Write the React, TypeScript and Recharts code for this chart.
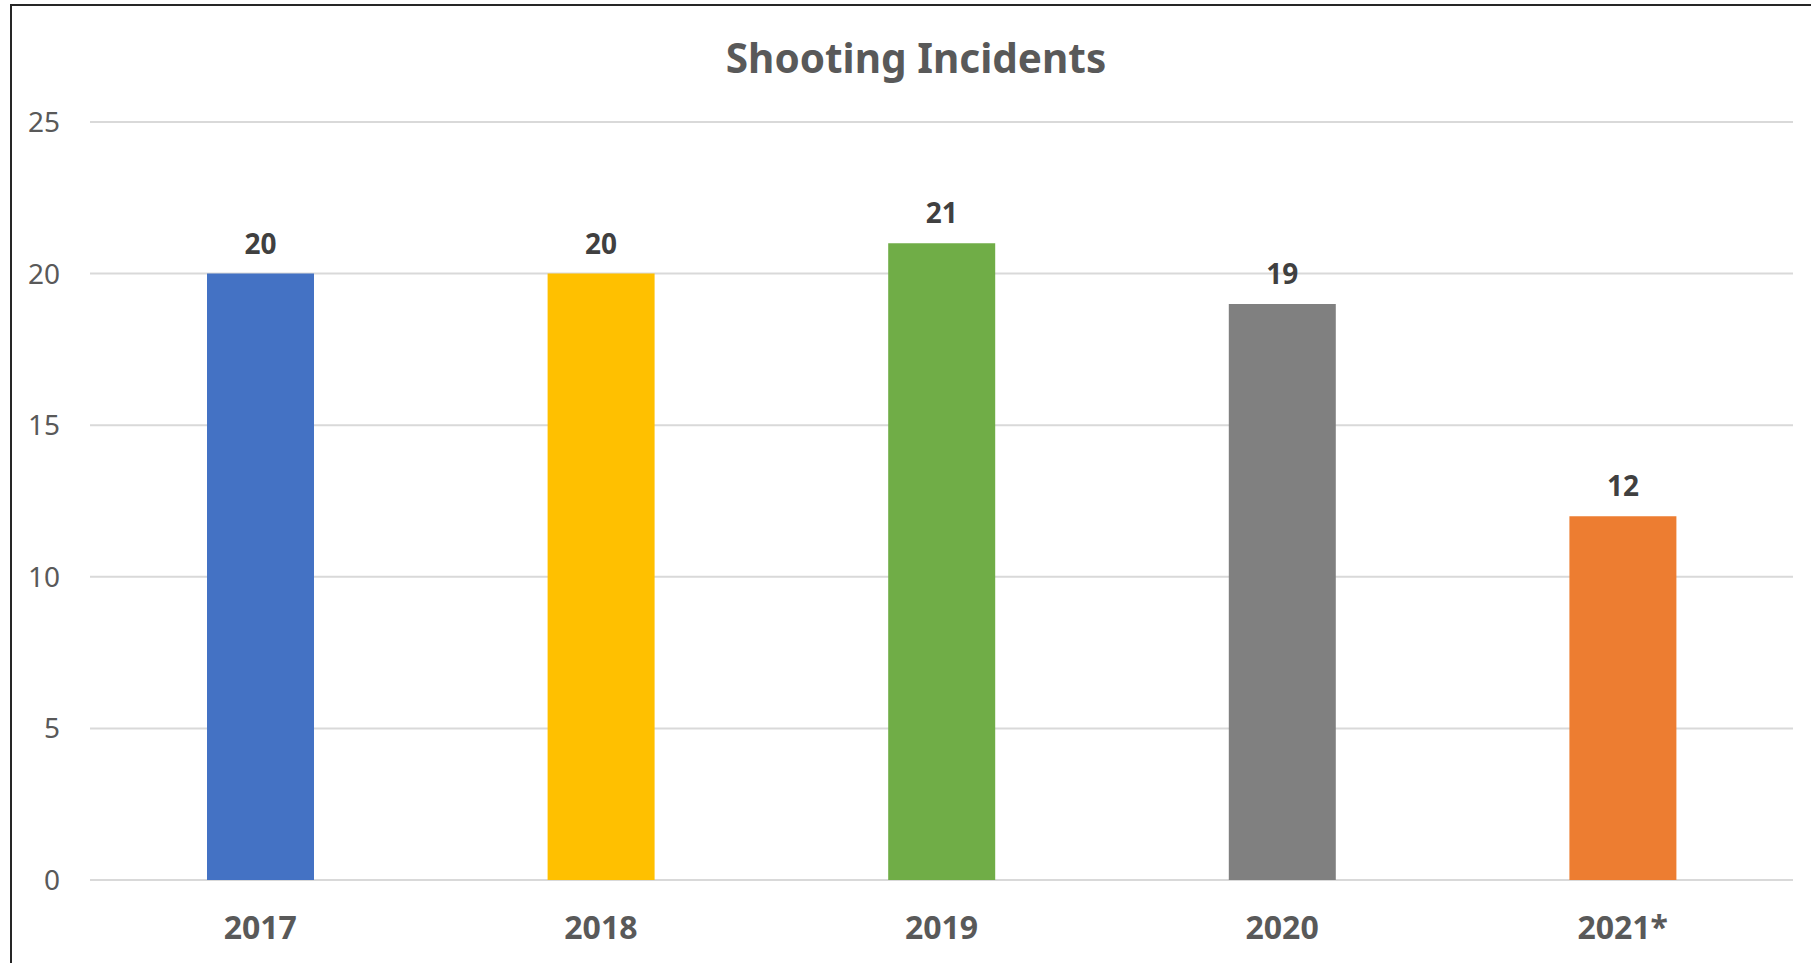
import { Bar, BarChart, CartesianGrid, Cell, LabelList, XAxis, YAxis } from "recharts";

const years = ["2017", "2018", "2019", "2020", "2021*"];
const incidents = [20, 20, 21, 19, 12];
const barColors = ["#4472c4", "#ffc000", "#70ad47", "#808080", "#ed7d31"];
const yTicks = [0, 5, 10, 15, 20, 25];

const data = years.map((year, i) => ({ year, incidents: incidents[i] }));

const font = "'Noto Sans', 'Open Sans', sans-serif";

export default function App() {
  return (
    <div
      style={{
        position: "fixed",
        left: 0,
        top: 0,
        width: 1811,
        height: 963,
        overflow: "hidden",
        background: "#fff",
        fontFamily: font,
      }}
    >
      <div
        style={{
          position: "absolute",
          left: 10,
          top: 4,
          width: 1840,
          height: 1000,
          border: "2.5px solid #262626",
          boxSizing: "border-box",
        }}
      />
      <BarChart
        width={1811}
        height={963}
        data={data}
        margin={{ top: 122, right: 18, left: 0, bottom: 0 }}
        style={{ position: "absolute", left: 0, top: 0, fontFamily: font }}
      >
        <CartesianGrid vertical={false} stroke="#d9d9d9" strokeWidth={2} />
        <XAxis
          dataKey="year"
          height={83}
          axisLine={false}
          tickLine={false}
          tickSize={0}
          tickMargin={36}
          tick={{ fill: "#595959", fontSize: 32, fontWeight: 700 }}
        />
        <YAxis
          width={90}
          domain={[0, 25]}
          ticks={yTicks}
          axisLine={false}
          tickLine={false}
          tickSize={0}
          tickMargin={30}
          tick={{ fill: "#595959", fontSize: 28 }}
        />
        <Bar dataKey="incidents" barSize={107} isAnimationActive={false}>
          {data.map((d, i) => (
            <Cell key={d.year} fill={barColors[i]} />
          ))}
          <LabelList
            dataKey="incidents"
            position="top"
            offset={20}
            fill="#404040"
            fontSize={28}
            fontWeight={700}
          />
        </Bar>
      </BarChart>
      <svg
        width={1811}
        height={120}
        style={{ position: "absolute", left: 0, top: 0, pointerEvents: "none" }}
      >
        <text
          x={916}
          y={73}
          textAnchor="middle"
          fill="#595959"
          fontSize={40.5}
          fontWeight={700}
          fontFamily={font}
        >
          Shooting Incidents
        </text>
      </svg>
    </div>
  );
}
